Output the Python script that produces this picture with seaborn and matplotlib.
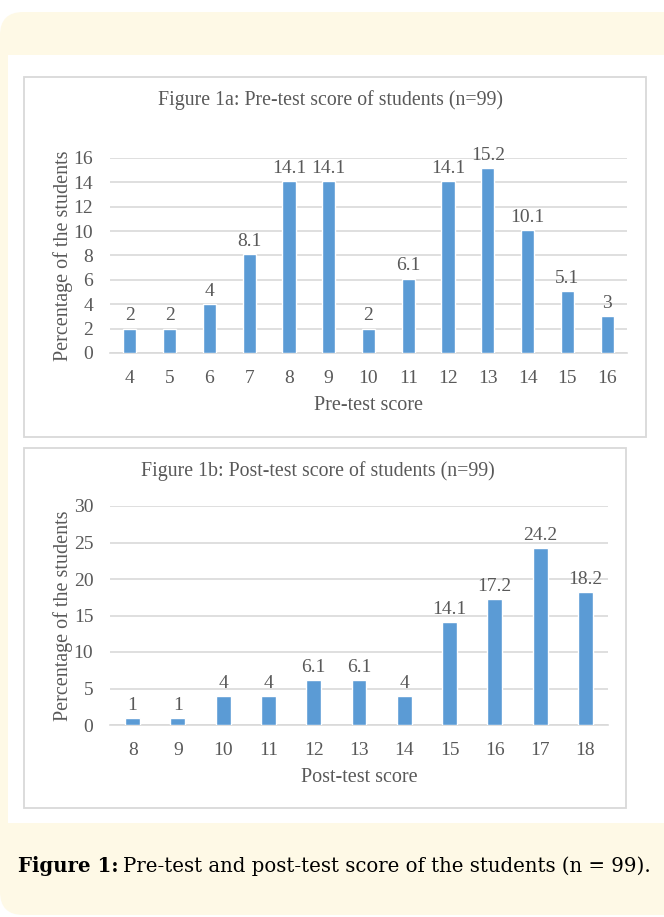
import matplotlib
matplotlib.use("Agg")
import matplotlib.pyplot as plt
import numpy as np
import pandas as pd
import seaborn as sns
from matplotlib.patches import Rectangle, FancyBboxPatch

# data
pre_scores = ['4', '5', '6', '7', '8', '9', '10', '11', '12', '13', '14', '15', '16']
pre_pct = [2, 2, 4, 8.1, 14.1, 14.1, 2, 6.1, 14.1, 15.2, 10.1, 5.1, 3]

post_scores = ['8', '9', '10', '11', '12', '13', '14', '15', '16', '17', '18']
post_pct = [1, 1, 4, 4, 6.1, 6.1, 4, 14.1, 17.2, 24.2, 18.2]

BAR = '#5B9BD5'
TXT = '#595959'
GRID = '#D9D9D9'
CREAM = '#FEF9E6'

sns.set_theme(style='white')
plt.rcParams['font.family'] = ['Liberation Serif', 'DejaVu Serif']

W, H = 664, 917
fig = plt.figure(figsize=(W / 100, H / 100), dpi=100)
fig.patch.set_facecolor('white')


def px(x0, y0, x1, y1):
    # pixel box (top-left origin) -> figure fraction rect
    return [x0 / W, 1 - y1 / H, (x1 - x0) / W, (y1 - y0) / H]


# page background: cream rounded card with white inner area
fig.patches.append(FancyBboxPatch((0.0, 2 / H), 1.05, (H - 14) / H,
                                  boxstyle='round,pad=0,rounding_size=0.035',
                                  transform=fig.transFigure, facecolor=CREAM,
                                  edgecolor='none', zorder=-3, mutation_aspect=W / H))
fig.patches.append(Rectangle((8 / W, 1 - 823 / H), 1, (823 - 55) / H,
                             transform=fig.transFigure, facecolor='white',
                             edgecolor='none', zorder=-2))
for (x0, y0, x1, y1) in [(24, 77, 646, 437), (24, 448, 626, 808)]:
    fig.patches.append(Rectangle((x0 / W, 1 - y1 / H), (x1 - x0) / W, (y1 - y0) / H,
                                 transform=fig.transFigure, facecolor='white',
                                 edgecolor=GRID, linewidth=1.3, zorder=-1))


def draw_panel(rect, cats, vals, ymax, step, title, xlabel, title_x, title_y, xlabel_y, ylabel_x):
    ax = fig.add_axes(rect)
    ax.set_zorder(2)
    ax.set_facecolor('none')
    df = pd.DataFrame({'score': cats, 'pct': vals})
    sns.barplot(data=df, x='score', y='pct', order=cats, color=BAR,
                width=0.33, saturation=1, ax=ax, zorder=3)
    ax.set_xlim(-0.5, len(cats) - 0.5)
    ax.set_ylim(0, ymax)
    ax.set_yticks(np.arange(0, ymax + 0.1, step))
    ax.yaxis.grid(True, color=GRID, linewidth=1.2)
    ax.set_axisbelow(True)
    for s in ['top', 'right', 'left']:
        ax.spines[s].set_visible(False)
    ax.spines['bottom'].set_color(GRID)
    ax.spines['bottom'].set_linewidth(1.2)
    ax.tick_params(axis='both', length=0, labelsize=14, colors=TXT)
    ax.tick_params(axis='x', pad=12)
    ax.tick_params(axis='y', pad=12)
    ax.set_xlabel('')
    ax.set_ylabel('')
    labels = ['%g' % v for v in vals]
    ax.bar_label(ax.containers[0], labels=labels, padding=3, fontsize=14, color=TXT)
    fig.text(title_x / W, 1 - title_y / H, title,
             ha='center', va='center', fontsize=14.3, color=TXT)
    fig.text(rect[0] + rect[2] / 2, 1 - xlabel_y / H, xlabel,
             ha='center', va='center', fontsize=14.5, color=TXT)
    fig.text(ylabel_x / W, rect[1] + rect[3] / 2, 'Percentage of the students',
             rotation=90, ha='center', va='center', fontsize=14.5, color=TXT)
    return ax


draw_panel(px(110, 158, 627, 353), pre_scores, pre_pct, 16, 2,
           'Figure 1a: Pre-test score of students (n=99)', 'Pre-test score',
           330, 100, 405, 63)
draw_panel(px(110, 506, 608, 725), post_scores, post_pct, 30, 5,
           'Figure 1b: Post-test score of students (n=99)', 'Post-test score',
           318, 471, 777, 63)

# caption: bold lead-in followed by plain text
cap_y = 1 - 866 / H
cap_font = ['DejaVu Serif']
t1 = fig.text(18 / W, cap_y, 'Figure 1:', fontsize=14.2, fontweight='bold',
              family=cap_font, color='black', va='center')
fig.canvas.draw()
bb = t1.get_window_extent(renderer=fig.canvas.get_renderer())
fig.text(bb.x1 / W + 4 / W, cap_y, 'Pre-test and post-test score of the students (n = 99).',
         fontsize=14.2, family=cap_font, color='black', va='center')

fig.savefig('out.png', dpi=100, facecolor=fig.get_facecolor())
